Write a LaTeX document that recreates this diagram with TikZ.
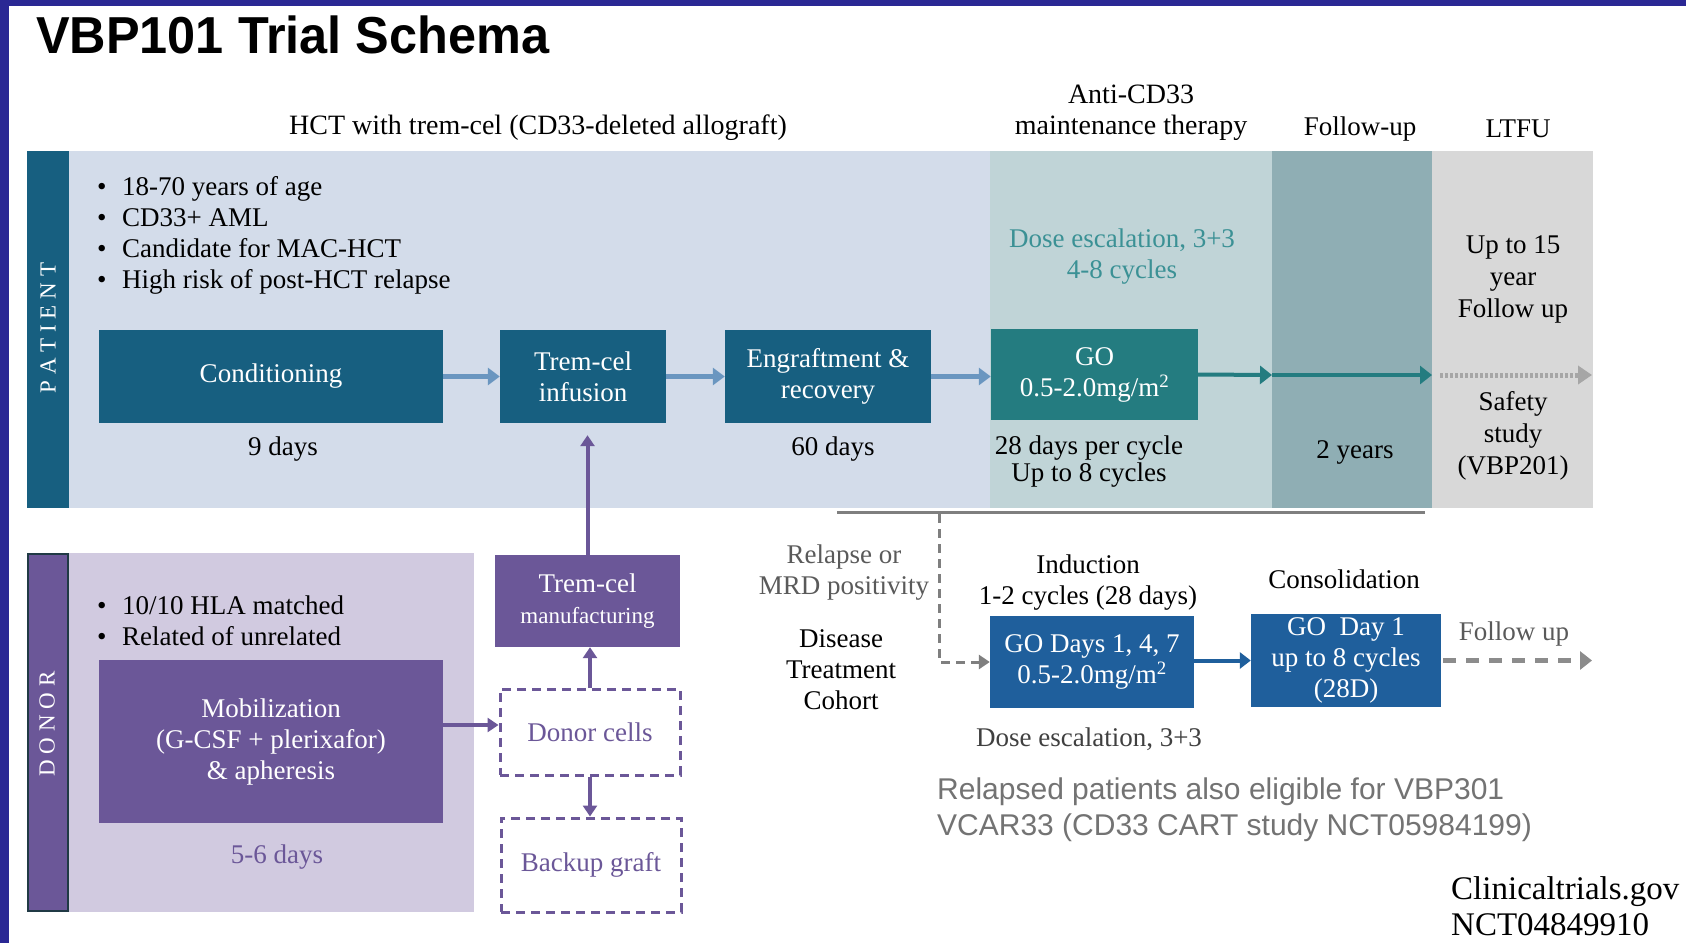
\documentclass[tikz,border=0pt]{standalone}
\usepackage{fontspec}
\setmainfont{Liberation Serif}
\newfontfamily\titrefont[FakeStretch=0.97]{Liberation Sans Bold}
\newfontfamily\sanstexte{Liberation Sans}
\usetikzlibrary{arrows.meta}

\definecolor{bleucadre}{HTML}{2A2894}
\definecolor{fondpatient}{HTML}{D3DCEA}
\definecolor{fondmaint}{HTML}{C0D4D7}
\definecolor{fondsuivi}{HTML}{8FAEB4}
\definecolor{fondltfu}{HTML}{D8D8D8}
\definecolor{bleupatient}{HTML}{175F80}
\definecolor{tealgo}{HTML}{247C80}
\definecolor{tealtexte}{HTML}{3B9195}
\definecolor{bleuclair}{HTML}{6A96C0}
\definecolor{violetbloc}{HTML}{6B5798}
\definecolor{fonddonneur}{HTML}{D1CAE0}
\definecolor{bordfonce}{HTML}{203A45}
\definecolor{bleuind}{HTML}{1F5F9C}
\definecolor{grisligne}{HTML}{7F7F7F}
\definecolor{gristexte}{HTML}{5A5A5A}

\newcommand{\puce}{\makebox[25pt][l]{\textbullet}}

\begin{document}
\begin{tikzpicture}[x=1pt, y=-1pt,
    font=\fontsize{27}{31}\selectfont,
    bloc/.style={inner sep=0pt, text=white, align=center},
    tiretbox/.style={draw=violetbloc, line width=3pt, dash pattern=on 9pt off 6pt,
        inner sep=0pt, text=violetbloc, align=center, minimum width=180pt},
    flecheclair/.style={draw=bleuclair, line width=5pt, -{Triangle[length=12pt,width=17pt]}},
    flechego/.style={draw=tealgo, line width=4pt, -{Triangle[length=12pt,width=18pt]}},
    flecheviolet/.style={draw=violetbloc, line width=4pt, -{Triangle[length=11pt,width=14pt]}},
    flechebleu/.style={draw=bleuind, line width=4pt, -{Triangle[length=11pt,width=16pt]}},
    tiretgris/.style={draw=grisligne, line width=3pt, dash pattern=on 9pt off 6pt,
        -{Triangle[length=11pt,width=14pt]}},
    pointgris/.style={draw=black!35, line width=5pt, dash pattern=on 3pt off 2pt,
        -{Triangle[length=14pt,width=18pt, fill=black!35]}},
    suivigris/.style={draw=black!45, line width=5pt, dash pattern=on 13pt off 10pt,
        -{Triangle[length=12pt,width=18pt]}}]

    % Fond et cadre
    \useasboundingbox (0,0) rectangle (1686,943);
    \fill[white] (0,0) rectangle (1686,943);
    \fill[bleucadre] (0,0) rectangle (9,943);
    \fill[bleucadre] (0,0) rectangle (1686,6);

    % Titre
    \node[anchor=west, inner sep=0pt, font=\titrefont\fontsize{52}{52}\selectfont] (titre) at (36,35) {VBP101 Trial Schema};

    % Les phases en haut
    \node[font=\fontsize{28}{31}\selectfont] (phasehct) at (538,128) {HCT with trem-cel (CD33-deleted allograft)};
    \node[align=center, font=\fontsize{28}{31}\selectfont] (phasemaint) at (1131,113) {Anti-CD33\\maintenance therapy};
    \node (phasesuivi) at (1360,129) {Follow-up};
    \node (phaseltfu) at (1518,129) {LTFU};

    % Bandeau patient
    \fill[fondpatient] (69,151) rectangle (990,508);
    \fill[fondmaint] (990,151) rectangle (1272,508);
    \fill[fondsuivi] (1272,151) rectangle (1432,508);
    \fill[fondltfu] (1432,151) rectangle (1593,508);
    \fill[bleupatient] (27,151) rectangle (69,508);
    \node[rotate=90, text=white, font=\fontsize{23}{23}\selectfont] (patient) at (48,328) {P A T I E N T};

    \node[anchor=west, align=left, inner sep=0pt] (critpatient) at (97,235)
        {\puce 18-70 years of age\\ \puce CD33+ AML\\ \puce Candidate for MAC-HCT\\ \puce High risk of post-HCT relapse};

    % Etapes du patient
    \node[bloc, fill=bleupatient, minimum width=344pt, minimum height=93pt] (cond) at (271,376.5) {Conditioning};
    \node[bloc, fill=bleupatient, minimum width=166pt, minimum height=93pt] (infusion) at (583,376.5) {Trem-cel\\infusion};
    \node[bloc, fill=bleupatient, minimum width=206pt, minimum height=93pt] (engraft) at (828,376.5) {Engraftment \&\\recovery};
    \node[bloc, fill=tealgo, minimum width=207pt, minimum height=91pt] (go) at (1094.5,374.5) {GO\\0.5-2.0mg/m\textsuperscript{2}};

    \node (neufjours) at (283,449) {9 days};
    \node (soixantejours) at (833,449) {60 days};
    \node[align=center, font=\fontsize{27}{27}\selectfont] (cycles) at (1089,462) {28 days per cycle\\Up to 8 cycles};
    \node (deuxans) at (1355,452) {2 years};
    \node[align=center, text=tealtexte] (escalade) at (1122,257) {Dose escalation, 3+3\\4-8 cycles};
    \node[align=center, font=\fontsize{27}{32}\selectfont] (quinzeans) at (1513,279) {Up to 15\\year\\Follow up};
    \node[align=center, font=\fontsize{27}{32}\selectfont] (securite) at (1513,436) {Safety\\study\\(VBP201)};

    % Fleches du patient
    \draw[flecheclair] (cond) -- (infusion);
    \draw[flecheclair] (infusion) -- (engraft);
    \draw[flecheclair] (engraft.east) -- (engraft.east -| go.west);
    \coordinate (finsuivi) at (1272,375);
    \coordinate (finltfu) at (1432,375);
    \coordinate (finpoint) at (1592,375);
    \draw[flechego] (go.east) -- (finsuivi);
    \draw[flechego] (finsuivi) -- (finltfu);
    \draw[pointgris, shorten <=8pt] (finltfu) -- (finpoint);

    % Bandeau donneur
    \fill[fonddonneur] (68,553) rectangle (474,912);
    \filldraw[fill=violetbloc, draw=bordfonce, line width=2pt] (28,554) rectangle (68,911);
    \node[rotate=90, text=white, font=\fontsize{23}{23}\selectfont] (donor) at (47,724) {D O N O R};

    \node[anchor=west, align=left, inner sep=0pt] (critdonneur) at (97,621)
        {\puce 10/10 HLA matched\\ \puce Related of unrelated};

    \node[bloc, fill=violetbloc, minimum width=344pt, minimum height=163pt] (mobil) at (271,741.5)
        {Mobilization\\(G-CSF + plerixafor)\\\& apheresis};
    \node[text=violetbloc] (cinqjours) at (277,857) {5-6 days};

    \node[bloc, fill=violetbloc, minimum width=185pt, minimum height=92pt] (manuf) at (587.5,601)
        {Trem-cel\\{\fontsize{23}{29}\selectfont manufacturing}};
    \node[tiretbox, minimum height=86pt] (donneur) at (590,732) {Donor cells};
    \node[tiretbox, minimum height=94pt] (secours) at (591,865) {Backup graft};

    % Fleches du donneur
    \draw[flecheviolet, shorten >=12pt] (manuf.north) -- (manuf.north |- infusion.south);
    \coordinate (sortiemobil) at (443,725);
    \draw[flecheviolet] (sortiemobil) -- (sortiemobil -| donneur.west);
    \draw[flecheviolet] (donneur.north) -- (donneur.north |- manuf.south);
    \draw[flecheviolet] (donneur.south) -- (donneur.south |- secours.north);

    % Cohorte de traitement
    \draw[grisligne, line width=3pt] (837,512) -- (1425,512);
    \node[align=center, text=gristexte] (rechute) at (844,573) {Relapse or\\MRD positivity};
    \node[align=center] (cohorte) at (841,670) {Disease\\Treatment\\Cohort};
    \node[align=center] (titreind) at (1088,583) {Induction\\1-2 cycles (28 days)};
    \node (titreconsol) at (1344,579) {Consolidation};

    \node[bloc, fill=bleuind, minimum width=204pt, minimum height=92pt] (induction) at (1092,662)
        {GO Days 1, 4, 7\\0.5-2.0mg/m\textsuperscript{2}};
    \node[bloc, fill=bleuind, minimum width=190pt, minimum height=93pt] (consol) at (1346,660.5)
        {GO~ Day 1\\up to 8 cycles\\(28D)};
    \node[text=gristexte] (suivibas) at (1514,634) {Follow up};
    \node[text=black!75] (escbas) at (1089,739) {Dose escalation, 3+3};

    \coordinate (depart) at (939,514);
    \coordinate (finbas) at (1592,660.5);
    \draw[tiretgris] (depart) |- (induction.west);
    \draw[flechebleu] (induction.east |- consol.west) -- (consol.west);
    \draw[suivigris, shorten <=2pt] (consol.east) -- (finbas);

    % Notes
    \node[anchor=west, align=left, inner sep=0pt, text=black!55, font=\sanstexte\fontsize{30}{36}\selectfont] (vcar) at (937,810)
        {Relapsed patients also eligible for VBP301\\VCAR33 (CD33 CART study NCT05984199)};
    \node[anchor=west, align=left, inner sep=0pt, font=\fontsize{33}{36}\selectfont] (registre) at (1451,906)
        {Clinicaltrials.gov\\NCT04849910};
\end{tikzpicture}
\end{document}
